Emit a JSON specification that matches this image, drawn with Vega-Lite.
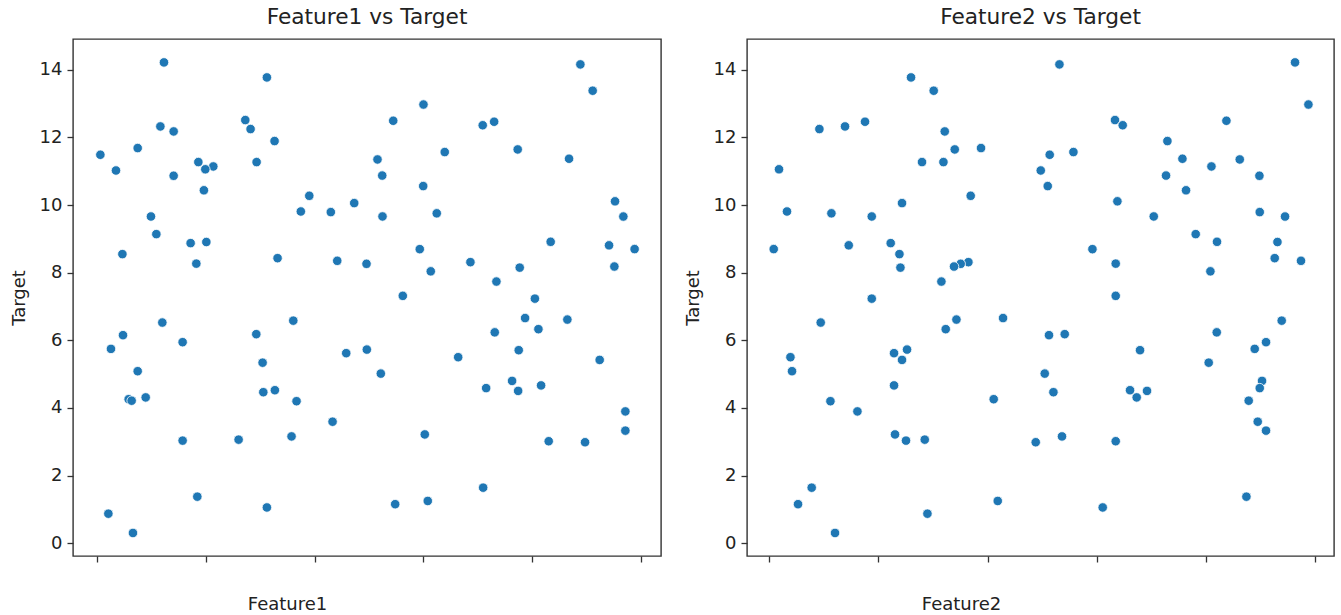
{
  "$schema": "https://vega.github.io/schema/vega-lite/v6.json",
  "padding": {"left": 9, "top": 6, "right": 0, "bottom": 0},
  "background": "white",
  "bounds": "flush",
  "spacing": 86,
  "config": {
    "font": "DejaVu Sans",
    "view": {"stroke": "#333333", "strokeWidth": 1.4},
    "axis": {
      "domain": false,
      "grid": false,
      "tickColor": "#333333",
      "tickWidth": 1.3,
      "tickSize": 6,
      "labelFont": "DejaVu Sans",
      "labelFontSize": 18,
      "labelColor": "#222222",
      "labelPadding": 5,
      "titleFont": "DejaVu Sans",
      "titleFontSize": 18,
      "titleFontWeight": "normal",
      "titleColor": "#222222"
    },
    "title": {"font": "DejaVu Sans", "fontSize": 21.7, "fontWeight": "normal", "color": "#222222", "baseline": "alphabetic", "offset": 10, "anchor": "middle"}
  },
  "data": {
    "values": [
      {"Feature1": 0.1231, "Feature2": 0.9627, "Target": 14.215},
      {"Feature1": 0.8885, "Feature2": 0.5315, "Target": 14.156},
      {"Feature1": 0.3123, "Feature2": 0.2599, "Target": 13.771},
      {"Feature1": 0.9111, "Feature2": 0.3014, "Target": 13.378},
      {"Feature1": 0.6001, "Feature2": 0.9872, "Target": 12.970},
      {"Feature1": 0.2726, "Feature2": 0.6332, "Target": 12.511},
      {"Feature1": 0.5445, "Feature2": 0.8371, "Target": 12.490},
      {"Feature1": 0.7300, "Feature2": 0.1757, "Target": 12.461},
      {"Feature1": 0.7090, "Feature2": 0.6473, "Target": 12.357},
      {"Feature1": 0.1165, "Feature2": 0.1391, "Target": 12.322},
      {"Feature1": 0.2823, "Feature2": 0.0922, "Target": 12.245},
      {"Feature1": 0.1409, "Feature2": 0.3216, "Target": 12.174},
      {"Feature1": 0.3264, "Feature2": 0.7291, "Target": 11.890},
      {"Feature1": 0.0748, "Feature2": 0.3880, "Target": 11.683},
      {"Feature1": 0.7733, "Feature2": 0.3399, "Target": 11.642},
      {"Feature1": 0.6392, "Feature2": 0.5571, "Target": 11.565},
      {"Feature1": 0.0062, "Feature2": 0.5137, "Target": 11.485},
      {"Feature1": 0.8677, "Feature2": 0.7566, "Target": 11.367},
      {"Feature1": 0.5156, "Feature2": 0.8615, "Target": 11.346},
      {"Feature1": 0.1863, "Feature2": 0.2800, "Target": 11.269},
      {"Feature1": 0.2934, "Feature2": 0.3192, "Target": 11.268},
      {"Feature1": 0.2138, "Feature2": 0.8097, "Target": 11.139},
      {"Feature1": 0.1991, "Feature2": 0.0183, "Target": 11.056},
      {"Feature1": 0.0349, "Feature2": 0.4973, "Target": 11.020},
      {"Feature1": 0.5243, "Feature2": 0.7266, "Target": 10.870},
      {"Feature1": 0.1409, "Feature2": 0.8975, "Target": 10.864},
      {"Feature1": 0.5996, "Feature2": 0.5101, "Target": 10.559},
      {"Feature1": 0.1965, "Feature2": 0.7632, "Target": 10.435},
      {"Feature1": 0.3902, "Feature2": 0.3691, "Target": 10.272},
      {"Feature1": 0.9522, "Feature2": 0.6376, "Target": 10.109},
      {"Feature1": 0.4728, "Feature2": 0.2434, "Target": 10.056},
      {"Feature1": 0.3747, "Feature2": 0.0329, "Target": 9.808},
      {"Feature1": 0.4298, "Feature2": 0.8981, "Target": 9.790},
      {"Feature1": 0.6245, "Feature2": 0.1142, "Target": 9.754},
      {"Feature1": 0.0992, "Feature2": 0.1880, "Target": 9.660},
      {"Feature1": 0.5248, "Feature2": 0.7041, "Target": 9.661},
      {"Feature1": 0.9675, "Feature2": 0.9444, "Target": 9.659},
      {"Feature1": 0.1091, "Feature2": 0.7809, "Target": 9.139},
      {"Feature1": 0.8339, "Feature2": 0.8199, "Target": 8.912},
      {"Feature1": 0.2010, "Feature2": 0.9305, "Target": 8.906},
      {"Feature1": 0.1721, "Feature2": 0.2227, "Target": 8.873},
      {"Feature1": 0.9412, "Feature2": 0.1459, "Target": 8.808},
      {"Feature1": 0.9882, "Feature2": 0.0086, "Target": 8.696},
      {"Feature1": 0.5933, "Feature2": 0.5919, "Target": 8.695},
      {"Feature1": 0.0467, "Feature2": 0.2387, "Target": 8.548},
      {"Feature1": 0.3319, "Feature2": 0.9255, "Target": 8.429},
      {"Feature1": 0.4416, "Feature2": 0.9736, "Target": 8.350},
      {"Feature1": 0.6864, "Feature2": 0.3649, "Target": 8.311},
      {"Feature1": 0.1826, "Feature2": 0.6345, "Target": 8.267},
      {"Feature1": 0.4954, "Feature2": 0.3508, "Target": 8.261},
      {"Feature1": 0.9510, "Feature2": 0.3386, "Target": 8.181},
      {"Feature1": 0.7770, "Feature2": 0.2405, "Target": 8.149},
      {"Feature1": 0.6135, "Feature2": 0.8078, "Target": 8.039},
      {"Feature1": 0.7342, "Feature2": 0.3155, "Target": 7.737},
      {"Feature1": 0.5621, "Feature2": 0.6345, "Target": 7.314},
      {"Feature1": 0.8049, "Feature2": 0.1880, "Target": 7.232},
      {"Feature1": 0.7869, "Feature2": 0.4283, "Target": 6.658},
      {"Feature1": 0.8646, "Feature2": 0.3430, "Target": 6.613},
      {"Feature1": 0.3608, "Feature2": 0.9383, "Target": 6.581},
      {"Feature1": 0.1201, "Feature2": 0.0946, "Target": 6.525},
      {"Feature1": 0.8114, "Feature2": 0.3234, "Target": 6.330},
      {"Feature1": 0.7311, "Feature2": 0.8194, "Target": 6.235},
      {"Feature1": 0.2928, "Feature2": 0.5412, "Target": 6.182},
      {"Feature1": 0.0478, "Feature2": 0.5124, "Target": 6.152},
      {"Feature1": 0.1574, "Feature2": 0.9096, "Target": 5.945},
      {"Feature1": 0.0257, "Feature2": 0.8889, "Target": 5.747},
      {"Feature1": 0.4960, "Feature2": 0.2526, "Target": 5.726},
      {"Feature1": 0.7752, "Feature2": 0.6790, "Target": 5.708},
      {"Feature1": 0.4581, "Feature2": 0.2288, "Target": 5.620},
      {"Feature1": 0.6639, "Feature2": 0.0392, "Target": 5.501},
      {"Feature1": 0.9240, "Feature2": 0.2434, "Target": 5.421},
      {"Feature1": 0.3044, "Feature2": 0.8047, "Target": 5.339},
      {"Feature1": 0.0748, "Feature2": 0.0421, "Target": 5.087},
      {"Feature1": 0.5217, "Feature2": 0.5046, "Target": 5.016},
      {"Feature1": 0.7630, "Feature2": 0.9023, "Target": 4.800},
      {"Feature1": 0.8163, "Feature2": 0.2288, "Target": 4.667},
      {"Feature1": 0.7153, "Feature2": 0.8981, "Target": 4.587},
      {"Feature1": 0.3270, "Feature2": 0.6607, "Target": 4.525},
      {"Feature1": 0.7741, "Feature2": 0.6918, "Target": 4.505},
      {"Feature1": 0.3057, "Feature2": 0.5205, "Target": 4.466},
      {"Feature1": 0.0895, "Feature2": 0.6729, "Target": 4.312},
      {"Feature1": 0.0582, "Feature2": 0.4112, "Target": 4.259},
      {"Feature1": 0.0637, "Feature2": 0.8779, "Target": 4.215},
      {"Feature1": 0.3668, "Feature2": 0.1124, "Target": 4.200},
      {"Feature1": 0.9712, "Feature2": 0.1618, "Target": 3.898},
      {"Feature1": 0.4330, "Feature2": 0.8944, "Target": 3.594},
      {"Feature1": 0.9712, "Feature2": 0.9096, "Target": 3.330},
      {"Feature1": 0.6025, "Feature2": 0.2306, "Target": 3.218},
      {"Feature1": 0.3576, "Feature2": 0.5362, "Target": 3.159},
      {"Feature1": 0.2603, "Feature2": 0.2850, "Target": 3.064},
      {"Feature1": 0.1574, "Feature2": 0.2507, "Target": 3.035},
      {"Feature1": 0.8303, "Feature2": 0.6345, "Target": 3.017},
      {"Feature1": 0.8971, "Feature2": 0.4881, "Target": 2.987},
      {"Feature1": 0.7098, "Feature2": 0.0781, "Target": 1.644},
      {"Feature1": 0.1844, "Feature2": 0.8737, "Target": 1.378},
      {"Feature1": 0.6080, "Feature2": 0.4186, "Target": 1.251},
      {"Feature1": 0.5481, "Feature2": 0.0531, "Target": 1.156},
      {"Feature1": 0.3123, "Feature2": 0.6107, "Target": 1.059},
      {"Feature1": 0.0209, "Feature2": 0.2899, "Target": 0.875},
      {"Feature1": 0.0661, "Feature2": 0.1208, "Target": 0.305}
    ]
  },
  "hconcat": [
    {
      "width": 588,
      "height": 517,
      "title": "Feature1 vs Target",
      "mark": {"type": "circle", "size": 90, "fill": "#1f77b4", "stroke": "white", "strokeWidth": 0.8, "opacity": 1},
      "encoding": {
        "x": {"field": "Feature1", "type": "quantitative", "scale": {"domain": [-0.0441, 1.0367], "nice": false, "zero": false},
              "axis": {"values": [0, 0.2, 0.4, 0.6, 0.8, 1.0], "labels": false, "title": "Feature1", "titleX": 214, "titleY": 53, "titleBaseline": "alphabetic", "titleAlign": "center"}},
        "y": {"field": "Target", "type": "quantitative", "scale": {"domain": [-0.3756, 14.907], "nice": false, "zero": false},
              "axis": {"values": [0, 2, 4, 6, 8, 10, 12, 14], "title": "Target", "titleX": -49, "titleBaseline": "alphabetic", "titleAlign": "center", "titleAngle": -90}}
      }
    },
    {
      "width": 587,
      "height": 517,
      "title": "Feature2 vs Target",
      "mark": {"type": "circle", "size": 90, "fill": "#1f77b4", "stroke": "white", "strokeWidth": 0.8, "opacity": 1},
      "encoding": {
        "x": {"field": "Feature2", "type": "quantitative", "scale": {"domain": [-0.0403, 1.034], "nice": false, "zero": false},
              "axis": {"values": [0, 0.2, 0.4, 0.6, 0.8, 1.0], "labels": false, "title": "Feature2", "titleX": 214, "titleY": 53, "titleBaseline": "alphabetic", "titleAlign": "center"}},
        "y": {"field": "Target", "type": "quantitative", "scale": {"domain": [-0.3756, 14.907], "nice": false, "zero": false},
              "axis": {"values": [0, 2, 4, 6, 8, 10, 12, 14], "title": "Target", "titleX": -49, "titleBaseline": "alphabetic", "titleAlign": "center", "titleAngle": -90}}
      }
    }
  ]
}
